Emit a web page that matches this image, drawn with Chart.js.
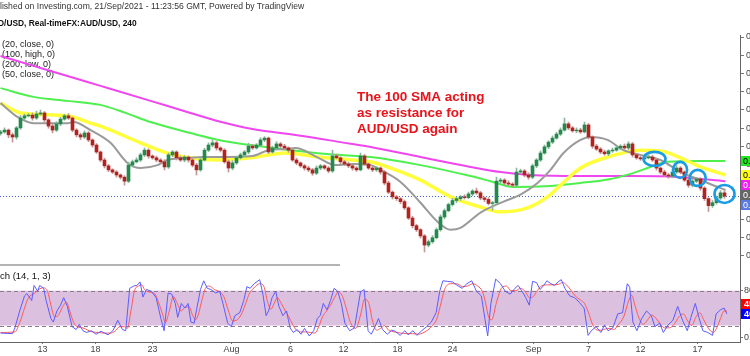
<!DOCTYPE html>
<html><head><meta charset="utf-8">
<script src="https://cdn.jsdelivr.net/npm/chart.js@4.4.1/dist/chart.umd.min.js"></script>
<style>
html,body{margin:0;padding:0;background:#fff;overflow:hidden}
#wrap{position:relative;width:750px;height:356px;background:#fff}
#main{position:absolute;left:0;top:0}
#stoch{position:absolute;left:0;top:265px}
</style></head><body>
<div id="wrap"><canvas id="main" width="750" height="356"></canvas><canvas id="stoch" width="750" height="91"></canvas></div>
<script>
// ---------- DATA (AUD/USD, 240 = 4H, drawn here as one candle per bar slot) ----------
const firstOpen = 0.7436;
const closes = [
0.7440,0.7445,0.7432,0.7426,0.7451,0.7478,0.7484,0.7486,0.7478,0.7489,
0.7492,0.7473,0.7456,0.7445,0.7462,0.7475,0.7484,0.7478,0.7445,0.7432,
0.7426,0.7437,0.7418,0.7404,0.7385,0.7363,0.7347,0.7336,0.7330,0.7322,
0.7316,0.7305,0.7349,0.7358,0.7363,0.7377,0.7390,0.7374,0.7369,0.7363,
0.7358,0.7344,0.7377,0.7385,0.7369,0.7363,0.7371,0.7363,0.7349,0.7336,
0.7363,0.7390,0.7404,0.7410,0.7396,0.7390,0.7358,0.7341,0.7355,0.7369,
0.7377,0.7385,0.7401,0.7396,0.7404,0.7418,0.7423,0.7385,0.7396,0.7407,
0.7401,0.7396,0.7390,0.7363,0.7355,0.7347,0.7341,0.7336,0.7327,0.7341,
0.7347,0.7341,0.7333,0.7374,0.7369,0.7358,0.7352,0.7347,0.7341,0.7336,
0.7374,0.7352,0.7341,0.7336,0.7341,0.7330,0.7300,0.7275,0.7262,0.7257,
0.7249,0.7232,0.7204,0.7183,0.7172,0.7155,0.7130,0.7139,0.7150,0.7172,
0.7207,0.7224,0.7241,0.7252,0.7257,0.7262,0.7260,0.7270,0.7278,0.7273,
0.7259,0.7255,0.7244,0.7246,0.7305,0.7308,0.7300,0.7297,0.7294,0.7330,
0.7333,0.7322,0.7316,0.7347,0.7363,0.7382,0.7399,0.7412,0.7423,0.7434,
0.7445,0.7462,0.7451,0.7443,0.7445,0.7440,0.7459,0.7426,0.7401,0.7393,
0.7385,0.7380,0.7388,0.7390,0.7396,0.7401,0.7396,0.7407,0.7377,0.7369,
0.7366,0.7369,0.7371,0.7363,0.7341,0.7330,0.7322,0.7319,0.7330,0.7341,
0.7330,0.7308,0.7294,0.7305,0.7311,0.7286,0.7257,0.7238,0.7246,0.7259,
0.7273,0.7264];
const upperWickPips = [
4,6,3,5,4,7,5,4,6,8, 8,4,3,5,6,5,4,6,3,4, 5,6,4,3,4,3,5,4,3,4,
3,4,8,5,6,5,6,4,3,5, 4,6,5,4,3,5,4,3,4,5, 6,5,6,8,4,3,4,5,6,4,
5,4,8,5,4,6,4,3,5,6, 4,5,3,4,5,3,4,5,4,6, 4,3,4,16,5,3,4,5,3,4,
8,4,3,5,4,3,4,5,3,4, 3,4,3,5,4,3,4,5,6,5, 6,5,4,6,5,4,6,5,4,8,
4,3,5,4,11,5,4,6,4,11, 5,4,6,5,4,6,5,4,6,5, 6,16,5,4,6,5,8,4,3,5,
4,5,3,6,5,4,6,6,4,3, 5,4,6,5,4,3,5,4,6,8, 4,3,5,6,4,3,4,3,6,5, 6,8];
const lowerWickPips = [
5,4,8,14,6,4,5,3,6,4, 3,5,6,8,4,5,3,4,5,6, 7,4,5,6,4,5,6,5,4,6,
5,11,4,5,3,4,5,6,4,5, 5,8,4,5,6,4,5,6,5,14, 4,3,4,5,6,5,4,11,5,4,
3,4,5,4,3,4,5,4,3,5, 4,5,6,4,5,4,6,5,6,4, 5,4,5,4,3,5,4,5,6,4,
3,5,4,5,4,6,5,4,6,5, 6,5,4,6,5,6,19,5,4,3, 4,5,3,4,6,5,4,3,5,4,
5,6,4,19,4,5,6,4,5,3, 4,5,6,4,5,4,3,5,4,3, 4,3,5,4,5,4,3,5,6,4,
5,4,5,4,3,5,4,5,6,4, 4,5,3,4,6,5,4,6,5,4, 5,4,6,5,4,6,5,16,5,4, 4,6];

// moving averages: [bar slot, price]
const sma20Close = [[0,0.7519],[4.25,0.7481],[8.25,0.7464],[16.75,0.7464],[18.25,0.7467],[22.5,0.7445],[27.5,0.7410],[31.75,0.7355],[35,0.7341],[39.25,0.7349],[41.75,0.7363],[47.5,0.7369],[50.5,0.7371],[54.5,0.7371],[63,0.7374],[67,0.7390],[71.25,0.7393],[73.75,0.7396],[79.5,0.7369],[83.75,0.7349],[88,0.7352],[92.5,0.7349],[95,0.7336],[100,0.7303],[105,0.7246],[109.25,0.7194],[112.5,0.7172],[115,0.7177],[120,0.7219],[125.75,0.7249],[130,0.7268],[134.25,0.7300],[137.5,0.7336],[140.75,0.7382],[145,0.7418],[147.5,0.7426],[151.75,0.7418],[155.75,0.7390],[160,0.7377],[165,0.7363],[170,0.7330],[175,0.7308],[180,0.7286],[181.25,0.7281]];
const sma100High = [[0,0.7560],[8.25,0.7536],[16.75,0.7525],[25,0.7514],[31.25,0.7492],[37.5,0.7467],[47.5,0.7437],[54.5,0.7418],[62.5,0.7404],[72.5,0.7390],[80.75,0.7380],[92.5,0.7371],[105,0.7349],[117.5,0.7319],[122.5,0.7305],[128.25,0.7289],[137.5,0.7292],[145,0.7300],[152.5,0.7311],[157.5,0.7325],[162.5,0.7344],[166.75,0.7358],[175,0.7360],[181.25,0.7360]];
const sma200Low = [[0,0.7648],[8.25,0.7621],[16.75,0.7593],[25,0.7566],[37.5,0.7525],[47.5,0.7492],[55,0.7468],[63,0.7448],[75.5,0.7429],[85,0.7412],[93.75,0.7396],[105,0.7371],[117.5,0.7344],[125,0.7330],[132.5,0.7322],[145,0.7319],[157.5,0.7319],[170,0.7316],[181.25,0.7305]];
const sma50Close = [[0,0.7519],[5,0.7492],[16.75,0.7484],[22.5,0.7464],[25,0.7456],[35,0.7410],[41.75,0.7382],[47.5,0.7369],[54.5,0.7363],[62.5,0.7369],[71.25,0.7382],[79.5,0.7371],[88,0.7363],[93.75,0.7355],[97.5,0.7341],[105,0.7308],[112.5,0.7262],[120,0.7234],[125,0.7221],[131.75,0.7232],[136.75,0.7262],[140,0.7294],[145,0.7341],[151.75,0.7371],[160,0.7390],[165,0.7388],[170,0.7369],[175,0.7344],[181.25,0.7322]];

// stochastic (14,1,3): [bar slot, value]
const stochK = [[0,7],[3.0,6],[3.6,16],[4.8,45],[6.0,71],[6.6,75],[7.8,63],[8.4,89],[9.3,79],[9.8,89],[10.8,84],[11.4,63],[12.6,32],[13.2,26],[14.1,45],[15.0,55],[15.8,68],[16.7,53],[17.9,18],[18.9,13],[19.7,22],[20.6,11],[21.5,8],[22.7,11],[23.9,5],[25.1,10],[26.9,4],[28.1,11],[29.3,29],[30.5,13],[31.3,11],[32.3,84],[33.3,88],[34.1,89],[34.9,95],[35.6,69],[36.5,82],[37.7,79],[38.9,68],[40.1,32],[40.9,11],[41.9,76],[42.8,74],[43.7,58],[44.3,34],[45.2,58],[46.1,50],[46.9,58],[47.6,26],[48.4,24],[49.0,47],[50.0,82],[50.8,97],[51.7,84],[52.6,82],[53.8,76],[54.8,79],[55.6,58],[56.8,24],[57.7,18],[58.6,37],[59.8,42],[60.8,63],[61.6,87],[62.4,84],[63.4,92],[64.8,99],[65.6,74],[66.4,37],[67.0,45],[67.9,68],[68.8,79],[69.6,53],[70.6,37],[71.5,45],[72.4,16],[73.2,8],[74.2,13],[75.1,5],[76.0,15],[77.2,2],[78.3,11],[79.2,32],[79.9,37],[80.7,58],[81.6,47],[82.5,63],[83.4,84],[84.3,79],[85.2,58],[86.1,24],[87.3,11],[88.5,16],[90.0,78],[90.9,82],[91.9,11],[92.7,5],[93.5,16],[94.5,32],[95.5,13],[96.7,5],[97.8,12],[98.7,10],[99.9,3],[101.1,11],[101.9,4],[103.1,11],[104.1,3],[105.3,11],[106.5,18],[107.7,26],[108.9,42],[109.8,79],[110.6,97],[111.8,96],[113.0,95],[114.2,89],[115.4,84],[116.6,92],[117.8,97],[119.0,79],[120.2,71],[121.1,32],[121.8,2],[122.6,58],[123.8,100],[125.0,92],[126.2,79],[127.4,74],[128.6,84],[129.4,89],[130.4,79],[131.3,68],[132.2,55],[133.0,96],[134.0,94],[134.9,82],[135.8,89],[136.6,97],[137.6,92],[138.5,89],[139.4,95],[140.2,99],[141.1,84],[142.3,71],[143.5,68],[144.7,60],[145.9,50],[146.9,3],[147.7,11],[148.9,18],[150.1,8],[151.0,21],[151.9,11],[153.1,16],[154.3,40],[155.5,42],[156.7,92],[157.3,86],[158.1,26],[159.1,11],[160.3,32],[161.5,45],[162.7,37],[163.6,18],[164.8,24],[165.7,8],[166.9,21],[168.1,29],[169.3,53],[170.5,29],[171.7,11],[172.6,34],[173.7,58],[174.6,34],[175.6,11],[176.8,8],[178.0,3],[178.9,40],[180.0,47],[180.9,50],[181.6,40]];
const stochD = [[0,8],[3.6,9],[4.8,25],[6.0,50],[7.0,68],[8.4,75],[9.5,82],[10.8,85],[11.8,78],[12.6,55],[13.5,35],[14.5,38],[15.5,52],[16.5,60],[17.3,45],[18.3,25],[19.5,17],[20.6,16],[21.8,12],[23,9],[24.5,8],[26,7],[27.5,7],[28.6,10],[29.8,18],[31,18],[31.7,15],[32.6,45],[33.5,80],[34.5,88],[35.3,90],[36,82],[37,78],[38.5,75],[39.5,60],[40.5,40],[41.2,25],[42.2,45],[43.2,70],[44.2,58],[45.2,45],[46.2,52],[47.2,52],[48,38],[48.8,30],[49.5,40],[50.4,65],[51.3,85],[52.2,88],[53.5,82],[54.8,78],[55.8,70],[57,45],[58,28],[59.2,30],[60.4,42],[61.4,60],[62.2,75],[63.4,85],[64.8,92],[65.8,88],[66.8,60],[67.6,48],[68.4,58],[69.2,68],[70.2,58],[71.2,45],[72.1,35],[73,22],[74,12],[75,9],[76.3,9],[77.5,8],[78.6,7],[79.5,17],[80.5,35],[81.5,45],[82.5,55],[83.5,68],[84.5,78],[85.5,70],[86.5,48],[87.5,25],[88.8,15],[90,38],[91,65],[92,60],[93,28],[94,12],[95,15],[96,20],[97,12],[98.5,9],[100,7],[101.5,6],[103,6],[104.5,5],[105.5,7],[106.8,12],[108,20],[109,30],[110,55],[111,82],[112.5,92],[114,92],[115.5,87],[116.8,88],[118,92],[119.3,88],[120.5,78],[121.3,58],[122,35],[122.8,30],[124,60],[125.3,85],[126.5,88],[127.6,80],[128.8,80],[130,84],[131,80],[132.3,68],[133.2,70],[134.2,80],[135.2,88],[136.8,90],[138,90],[139.5,91],[140.5,94],[141.5,90],[142.7,80],[143.8,70],[145,64],[146,58],[147,42],[148,22],[149.2,12],[150.3,12],[151.2,14],[152.2,15],[153.3,13],[154.5,22],[155.8,35],[157,62],[157.8,72],[158.6,55],[159.5,35],[160.7,22],[161.8,30],[162.8,38],[163.8,33],[165,22],[166,16],[167.2,16],[168.4,22],[169.6,35],[170.7,40],[171.8,28],[172.8,20],[173.8,34],[174.8,42],[175.8,30],[177,15],[178.2,8],[179,15],[180,32],[180.9,45],[181.6,45]];

const dateTickSlots = [10.5,23.75,38,57.75,72.5,85.75,99.25,113,133.25,147,160,174.25];
const dateTickLabels = ['13','18','23','Aug','6','12','18','24','Sep','7','12','17'];
const priceTicks = [0.710,0.715,0.720,0.725,0.730,0.735,0.740,0.745,0.750,0.755,0.760,0.765,0.770];
const stochTicks = [0,80];
const stochBand = [20,80];
// bars highlighted with circles: [bar slot, price]
const highlighted = [[163.5,0.7366],[169.9,0.7336],[174.3,0.7314],[181,0.7270]];

// ---------- derived OHLC ----------
const opens = closes.map((c,i)=> i===0 ? firstOpen : closes[i-1]);
const highs = closes.map((c,i)=> Math.max(opens[i],c) + upperWickPips[i]*0.0001);
const lows  = closes.map((c,i)=> Math.min(opens[i],c) - lowerWickPips[i]*0.0001);
const isUp = closes.map((c,i)=> c >= opens[i]);

const FONT = '"Liberation Sans", Arial, sans-serif';
const toXY = arr => arr.map(p => ({x:p[0], y:p[1]}));
const XMIN = -0.125, XMAX = 184.875;

const mainDeco = {
  id:'mainDeco',
  beforeDatasetsDraw(chart){
    const ctx = chart.ctx, y = chart.scales.y, a = chart.chartArea;
    ctx.save();
    const py = Math.round(y.getPixelForValue(closes[closes.length-1]))+0.5;
    ctx.strokeStyle = '#4466dd'; ctx.lineWidth = 1; ctx.setLineDash([1,2]);
    ctx.beginPath(); ctx.moveTo(a.left, py); ctx.lineTo(a.right, py); ctx.stroke();
    ctx.setLineDash([]);
    ctx.fillStyle = '#333'; ctx.textBaseline = 'middle';
    ctx.font = '8.6px ' + FONT;
    ctx.fillText('lished on Investing.com, 21/Sep/2021 - 11:23:56 GMT, Powered by TradingView', 0, 7);
    ctx.fillStyle = '#111';
    ctx.font = 'bold 8.4px ' + FONT;
    ctx.fillText('D/USD, Real-timeFX:AUD/USD, 240', -2, 24);
    ctx.font = '9px ' + FONT; ctx.fillStyle = '#222';
    ['(20, close, 0)','(100, high, 0)','(200, low, 0)','(50, close, 0)'].forEach((t,k)=>ctx.fillText(t, 2, 45 + k*10));
    ctx.strokeStyle = '#b4b4b4'; ctx.lineWidth = 2;
    ctx.beginPath(); ctx.moveTo(0, 265); ctx.lineTo(340, 265); ctx.stroke();
    ctx.restore();
  },
  afterDraw(chart){
    const ctx = chart.ctx, x = chart.scales.x, y = chart.scales.y, a = chart.chartArea;
    ctx.save();
    const radii = [[11,7],[7,8],[8,8],[10,9]];
    ctx.strokeStyle = '#1a9be3'; ctx.lineWidth = 2.6;
    highlighted.forEach((h,k)=>{
      ctx.beginPath();
      ctx.ellipse(x.getPixelForValue(h[0]), y.getPixelForValue(h[1]), radii[k][0], radii[k][1], 0, 0, Math.PI*2);
      ctx.stroke();
    });
    ctx.fillStyle = '#e8131b'; ctx.font = 'bold 13.5px ' + FONT; ctx.textBaseline = 'middle';
    ctx.fillText('The 100 SMA acting', 357, 97);
    ctx.fillText('as resistance for', 357, 113);
    ctx.fillText('AUD/USD again', 357, 129);
    const labs = [
      {v: sma100High[sma100High.length-1][1], bg:'#22e622', fg:'#000'},
      {v: sma50Close[sma50Close.length-1][1], bg:'#ffff1e', fg:'#000'},
      {v: sma200Low[sma200Low.length-1][1], bg:'#f01ef0', fg:'#fff'},
      {v: sma20Close[sma20Close.length-1][1], bg:'#666666', fg:'#fff'},
      {v: closes[closes.length-1], bg:'#5a7ae8', fg:'#fff'}
    ].map(o=>Object.assign(o,{py:y.getPixelForValue(o.v)})).sort((p,q)=>p.py-q.py);
    for(let k=1;k<labs.length;k++) if(labs[k].py < labs[k-1].py+10) labs[k].py = labs[k-1].py+10;
    ctx.font = '9px ' + FONT;
    labs.forEach(o=>{
      ctx.fillStyle = o.bg; ctx.fillRect(a.right+1, Math.round(o.py-5), 10, 10);
      ctx.fillStyle = o.fg; ctx.fillText(o.v.toFixed(4), a.right+3, Math.round(o.py)+0.5);
    });
    ctx.restore();
  }
};

new Chart(document.getElementById('main'), {
  type:'bar',
  data:{datasets:[
    {type:'bar', data: closes.map((c,i)=>({x:i, y:[opens[i], c]})), backgroundColor: isUp.map(u=>u?'#23894d':'#b1231f'), barThickness:3, grouped:false, order:0},
    {type:'bar', data: closes.map((c,i)=>({x:i, y:[lows[i], highs[i]]})), backgroundColor: isUp.map(u=>u?'#8db79c':'#c09896'), barThickness:1, grouped:false, order:1},
    {type:'line', data: toXY(sma20Close), borderColor:'#9a9a9a', borderWidth:2, pointRadius:0, cubicInterpolationMode:'monotone', order:2},
    {type:'line', data: toXY(sma50Close), borderColor:'#ffff3c', borderWidth:3.5, pointRadius:0, cubicInterpolationMode:'monotone', order:3},
    {type:'line', data: toXY(sma100High), borderColor:'#4ef04e', borderWidth:2, pointRadius:0, cubicInterpolationMode:'monotone', order:4},
    {type:'line', data: toXY(sma200Low), borderColor:'#f046f0', borderWidth:2, pointRadius:0, cubicInterpolationMode:'monotone', order:5}
  ]},
  options:{
    responsive:false, animation:false, events:[],
    layout:{padding:{top:35,bottom:14,left:0,right:0}},
    plugins:{legend:{display:false}, tooltip:{enabled:false}},
    scales:{
      x:{type:'linear', min:XMIN, max:XMAX, display:false, offset:false},
      y:{type:'linear', position:'right', min:0.686438, max:0.770548,
         afterFit(s){ s.width = 10; },
         afterBuildTicks(s){ s.ticks = priceTicks.map(v=>({value:v})); },
         ticks:{autoSkip:false, padding:2, color:'#444', font:{size:9, family:FONT}, callback:v=>Number(v).toFixed(4)},
         grid:{drawOnChartArea:false, drawTicks:true, tickLength:4, color:'#777'},
         border:{display:true, color:'#666', width:1}}
    }
  },
  plugins:[mainDeco]
});

const stochDeco = {
  id:'stochDeco',
  beforeDatasetsDraw(chart){
    const ctx = chart.ctx, y = chart.scales.y, a = chart.chartArea;
    const y1 = y.getPixelForValue(stochBand[1]), y0 = y.getPixelForValue(stochBand[0]);
    ctx.save();
    ctx.fillStyle = '#dcc0df';
    ctx.fillRect(a.left, y1, a.right-a.left, y0-y1);
    ctx.strokeStyle = '#8a7a8c'; ctx.lineWidth = 1; ctx.setLineDash([4,3]);
    [y1,y0].forEach(v=>{ const r = Math.round(v)+0.5; ctx.beginPath(); ctx.moveTo(a.left, r); ctx.lineTo(a.right, r); ctx.stroke(); });
    ctx.setLineDash([]);
    ctx.fillStyle = '#111'; ctx.font = '9.5px ' + FONT; ctx.textBaseline = 'middle';
    ctx.fillText('ch (14, 1, 3)', 0, 11);
    ctx.restore();
  },
  afterDraw(chart){
    const ctx = chart.ctx, y = chart.scales.y, a = chart.chartArea;
    const labs = [
      {v: stochD[stochD.length-1][1], bg:'#ff0000'},
      {v: stochK[stochK.length-1][1], bg:'#0000ff'}
    ].map(o=>Object.assign(o,{py:y.getPixelForValue(o.v)})).sort((p,q)=>p.py-q.py);
    if(labs[0].py > labs[1].py - 10) labs[0].py = labs[1].py - 10;
    ctx.save(); ctx.font = 'bold 9px ' + FONT; ctx.textBaseline = 'middle';
    labs.forEach(o=>{
      ctx.fillStyle = o.bg; ctx.fillRect(a.right+1, Math.round(o.py-5), 10, 10);
      ctx.fillStyle = '#fff'; ctx.fillText(o.v.toFixed(2), a.right+4, Math.round(o.py)+0.5);
    });
    ctx.restore();
  }
};

new Chart(document.getElementById('stoch'), {
  type:'line',
  data:{datasets:[
    {data: toXY(stochK), borderColor:'#5c5cff', borderWidth:1, pointRadius:0, tension:0, order:0},
    {data: toXY(stochD), borderColor:'#ff5a5a', borderWidth:1, pointRadius:0, cubicInterpolationMode:'monotone', order:1}
  ]},
  options:{
    responsive:false, animation:false, events:[],
    layout:{padding:0},
    plugins:{legend:{display:false}, tooltip:{enabled:false}},
    scales:{
      x:{type:'linear', min:XMIN, max:XMAX, position:'bottom', offset:false,
         afterFit(s){ s.height = 14; },
         afterBuildTicks(s){ s.ticks = dateTickSlots.map(v=>({value:v})); },
         ticks:{autoSkip:false, maxRotation:0, padding:0, color:'#444', font:{size:9, family:FONT}, callback:(v,i)=>dateTickLabels[i]},
         grid:{drawOnChartArea:false, drawTicks:true, tickLength:2, color:'#777'},
         border:{display:true, color:'#666', width:1}},
      y:{type:'linear', position:'right', min:-8.4, max:113.2,
         afterFit(s){ s.width = 10; },
         afterBuildTicks(s){ s.ticks = stochTicks.map(v=>({value:v})); },
         ticks:{autoSkip:false, padding:1, color:'#444', font:{size:9, family:FONT}, callback:v=> v===0 ? '0.00' : String(v)},
         grid:{drawOnChartArea:false, drawTicks:true, tickLength:3, color:'#777'},
         border:{display:true, color:'#666', width:1}}
    }
  },
  plugins:[stochDeco]
});
</script>
</body></html>
